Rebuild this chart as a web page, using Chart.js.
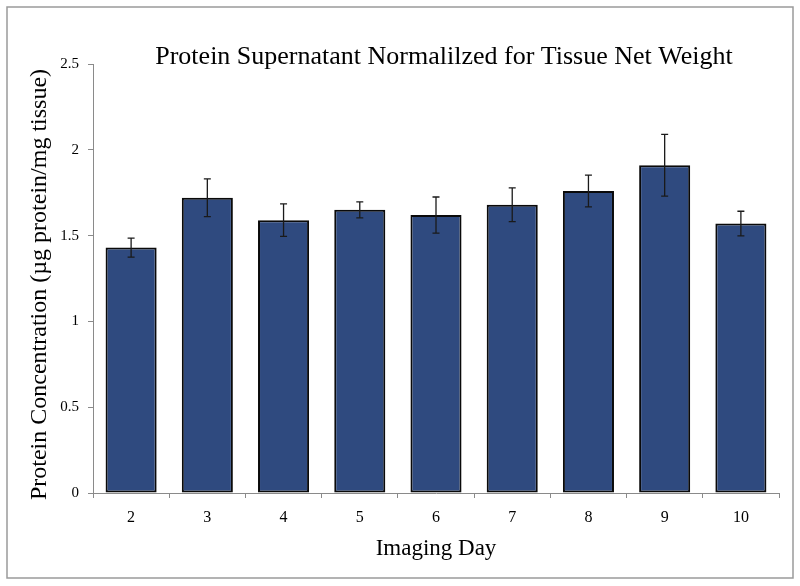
<!DOCTYPE html>
<html>
<head>
<meta charset="utf-8">
<script src="https://cdn.jsdelivr.net/npm/chart.js@4.4.1/dist/chart.umd.min.js"></script>
<style>
  html, body { margin: 0; padding: 0; background: #ffffff; }
  #wrap { width: 800px; height: 586px; }
</style>
</head>
<body>
<div id="wrap"><canvas id="c" width="800" height="586"></canvas></div>
<script>
const categories = ['2', '3', '4', '5', '6', '7', '8', '9', '10'];
const meanValues = [1.43, 1.72, 1.59, 1.65, 1.62, 1.68, 1.76, 1.91, 1.57];
const errorValues = [0.055, 0.11, 0.095, 0.047, 0.105, 0.098, 0.093, 0.18, 0.072];
const yTickValues = [0, 0.5, 1, 1.5, 2, 2.5];
const chartTitle = 'Protein Supernatant Normalilzed for Tissue Net Weight';
const yAxisTitle = 'Protein Concentration (\u00b5g protein/mg tissue)';
const xAxisTitle = 'Imaging Day';

const SERIF = '"Liberation Serif", "Times New Roman", serif';
const AXIS_GRAY = '#8a8a8a';

const decorPlugin = {
  id: 'decor',
  beforeDraw(chart) {
    const ctx = chart.ctx;
    ctx.save();
    ctx.fillStyle = '#ffffff';
    ctx.fillRect(0, 0, chart.width, chart.height);
    ctx.strokeStyle = '#9a9a9a';
    ctx.lineWidth = 1.5;
    ctx.strokeRect(7, 7, 786, 571);
    ctx.restore();
  },
  afterDatasetsDraw(chart) {
    const ctx = chart.ctx;
    const meta = chart.getDatasetMeta(0);
    const yScale = chart.scales.y;
    ctx.save();
    ctx.strokeStyle = '#1a1a1a';
    ctx.lineWidth = 1.3;
    meta.data.forEach((bar, i) => {
      const x = bar.x;
      const yHi = yScale.getPixelForValue(meanValues[i] + errorValues[i]);
      const yLo = yScale.getPixelForValue(meanValues[i] - errorValues[i]);
      ctx.beginPath();
      ctx.moveTo(x, yHi); ctx.lineTo(x, yLo);
      ctx.moveTo(x - 3.5, yHi); ctx.lineTo(x + 3.5, yHi);
      ctx.moveTo(x - 3.5, yLo); ctx.lineTo(x + 3.5, yLo);
      ctx.stroke();
    });
    ctx.restore();
  },
  afterDraw(chart) {
    const ctx = chart.ctx;
    const a = chart.chartArea;
    ctx.save();
    ctx.fillStyle = '#000000';
    // chart title
    ctx.font = '26px ' + SERIF;
    ctx.textAlign = 'center';
    ctx.textBaseline = 'alphabetic';
    ctx.fillText(chartTitle, (a.left + a.right) / 2 + 8, a.top);
    // x axis title
    ctx.font = '23px ' + SERIF;
    ctx.textBaseline = 'middle';
    ctx.fillText(xAxisTitle, (a.left + a.right) / 2, 549);
    // y axis title
    ctx.translate(40, (a.top + a.bottom) / 2 + 6);
    ctx.rotate(-Math.PI / 2);
    ctx.font = '24px ' + SERIF;
    ctx.fillText(yAxisTitle, 0, 0);
    ctx.restore();
  }
};

new Chart(document.getElementById('c'), {
  type: 'bar',
  data: {
    labels: categories,
    datasets: [{
      data: meanValues,
      backgroundColor: '#2f4a7f',
      borderColor: '#0a0a0a',
      borderWidth: 2,
      borderSkipped: false,
      barPercentage: 0.67,
      categoryPercentage: 1.0
    }]
  },
  options: {
    responsive: false,
    devicePixelRatio: 1,
    animation: false,
    layout: { padding: { left: 0, right: 21, top: 64, bottom: 0 } },
    plugins: { legend: { display: false }, title: { display: false }, tooltip: { enabled: false } },
    scales: {
      x: {
        afterFit: (s) => { s.height = 93; },
        grid: { display: true, drawOnChartArea: false, offset: true, tickLength: 5, color: AXIS_GRAY, lineWidth: 1 },
        border: { display: true, color: AXIS_GRAY, width: 1 },
        ticks: { color: '#000', font: { family: SERIF, size: 16 }, padding: 10, maxRotation: 0 }
      },
      y: {
        min: 0, max: 2.5,
        afterFit: (s) => { s.width = 93; },
        afterBuildTicks: (s) => { s.ticks = yTickValues.map(v => ({ value: v })); },
        grid: { display: true, drawOnChartArea: false, tickLength: 5, color: AXIS_GRAY, lineWidth: 1 },
        border: { display: true, color: AXIS_GRAY, width: 1 },
        ticks: { color: '#000', font: { family: SERIF, size: 15 }, padding: 9, callback: (v) => String(v) }
      }
    }
  },
  plugins: [decorPlugin]
});
</script>
</body>
</html>
